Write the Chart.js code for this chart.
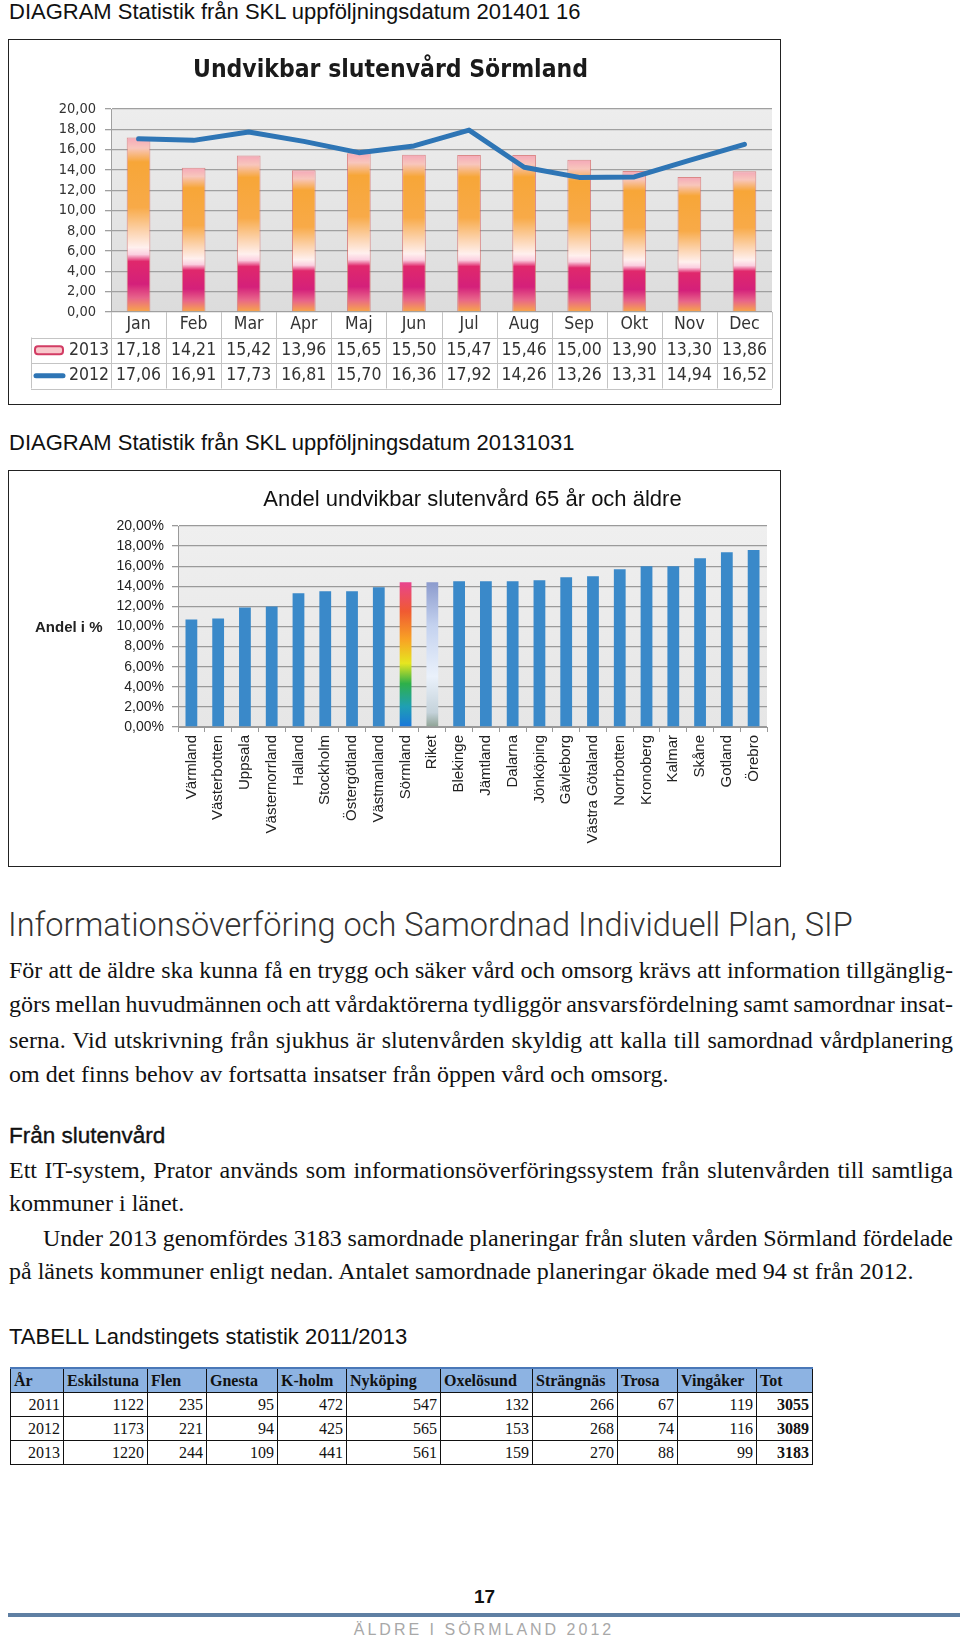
<!DOCTYPE html>
<html>
<head>
<meta charset="utf-8" />
<title>Undvikbar slutenvård</title>
<script src="https://cdn.jsdelivr.net/npm/chart.js"></script>
<style>
  body { margin:0; background:#fff; width:960px; height:1639px; position:relative; overflow:hidden;
         font-family:"Liberation Sans", Arial, sans-serif; color:#111; }
  .t { position:absolute; white-space:nowrap; line-height:1; }
  .head { font-size:22px; left:9px; }
  .box { position:absolute; left:8px; width:771px; border:1.5px solid #222; background:#fff; }
  canvas { position:absolute; }
  .ser { font-family:"Liberation Serif", "Times New Roman", serif; font-size:24px; left:9px; }
  table { position:absolute; left:10px; top:1367px; border-collapse:collapse; table-layout:fixed;
          font-family:"Liberation Serif", "Times New Roman", serif; font-size:16px; }
  td, th { border:1.5px solid #111; height:23px; padding:0 3px; text-align:right; }
  th { background:#8db3e2; text-align:left; font-weight:bold; border-top:2px solid #4a78b8; }
  td.b { font-weight:bold; }
</style>
</head>
<body>

<div class="t head" style="top:1px">DIAGRAM Statistik från SKL uppföljningsdatum 201401 16</div>
<div class="box" style="top:39px;height:364px"></div>
<canvas id="monthChart" width="772" height="365" style="left:9px;top:40px"></canvas>

<div class="t head" style="top:432px">DIAGRAM Statistik från SKL uppföljningsdatum 20131031</div>
<div class="box" style="top:470px;height:395px"></div>
<canvas id="regionChart" width="772" height="396" style="left:9px;top:471px"></canvas>

<div class="t" style="top:909px;left:8px;font-family:Roboto, 'Liberation Sans', sans-serif;font-weight:300;font-size:32.5px;color:#333">Informationsöverföring och Samordnad Individuell Plan, SIP</div>

<div class="t ser j" data-w="944" style="top:958px">För att de äldre ska kunna få en trygg och säker vård och omsorg krävs att information tillgänglig-</div>
<div class="t ser j" data-w="944" style="top:992px">görs mellan huvudmännen och att vårdaktörerna tydliggör ansvarsfördelning samt samordnar insat-</div>
<div class="t ser j" data-w="944" style="top:1028px">serna. Vid utskrivning från sjukhus är slutenvården skyldig att kalla till samordnad vårdplanering</div>
<div class="t ser" style="top:1062px">om det finns behov av fortsatta insatser från öppen vård och omsorg.</div>

<div class="t" style="top:1125px;left:9px;font-size:22.5px;-webkit-text-stroke:0.35px #111">Från slutenvård</div>
<div class="t ser j" data-w="944" style="top:1158px">Ett IT-system, Prator används som informationsöverföringssystem från slutenvården till samtliga</div>
<div class="t ser" style="top:1191px">kommuner i länet.</div>
<div class="t ser j" data-w="910" style="top:1226px;left:43px">Under 2013 genomfördes 3183 samordnade planeringar från sluten vården Sörmland fördelade</div>
<div class="t ser" style="top:1259px">på länets kommuner enligt nedan. Antalet samordnade planeringar ökade med 94 st från 2012.</div>

<div class="t head" style="top:1326px;font-size:22px">TABELL Landstingets statistik 2011/2013</div>
<table id="kommunTable"></table>

<div class="t" style="top:1587px;left:474px;font-size:19px;font-weight:bold">17</div>
<div style="position:absolute;left:8px;top:1613px;width:952px;height:4px;background:#5f7fa3"></div>
<div class="t" style="top:1622px;left:0;width:968px;text-align:center;font-size:16px;letter-spacing:3px;color:#a8a8a8">ÄLDRE I SÖRMLAND 2012</div>

<script>
  // --- chart 1: Undvikbar slutenvård Sörmland
  const months = ['Jan', 'Feb', 'Mar', 'Apr', 'Maj', 'Jun', 'Jul', 'Aug', 'Sep', 'Okt', 'Nov', 'Dec'];
  const values2013 = [17.18, 14.21, 15.42, 13.96, 15.65, 15.50, 15.47, 15.46, 15.00, 13.90, 13.30, 13.86];
  const values2012 = [17.06, 16.91, 17.73, 16.81, 15.70, 16.36, 17.92, 14.26, 13.26, 13.31, 14.94, 16.52];

  // --- chart 2: Andel undvikbar slutenvård 65 år och äldre
  const regions = ['Värmland', 'Västerbotten', 'Uppsala', 'Västernorrland', 'Halland', 'Stockholm',
    'Östergötland', 'Västmanland', 'Sörmland', 'Riket', 'Blekinge', 'Jämtland', 'Dalarna', 'Jönköping',
    'Gävleborg', 'Västra Götaland', 'Norrbotten', 'Kronoberg', 'Kalmar', 'Skåne', 'Gotland', 'Örebro'];
  const shares = [10.7, 10.8, 11.9, 12.0, 13.3, 13.5, 13.5, 13.9, 14.4, 14.4, 14.5, 14.5, 14.5, 14.6,
    14.9, 15.0, 15.7, 16.0, 16.0, 16.8, 17.4, 17.6];

  // --- table
  const tableHeader = ['År', 'Eskilstuna', 'Flen', 'Gnesta', 'K-holm', 'Nyköping', 'Oxelösund', 'Strängnäs', 'Trosa', 'Vingåker', 'Tot'];
  const tableRows = [
    ['2011', 1122, 235, 95, 472, 547, 132, 266, 67, 119, 3055],
    ['2012', 1173, 221, 94, 425, 565, 153, 268, 74, 116, 3089],
    ['2013', 1220, 244, 109, 441, 561, 159, 270, 88, 99, 3183]
  ];
  const colWidths = [53, 84, 59, 71, 69, 94, 92, 85, 60, 79, 56];

  const SANS = '"Liberation Sans", Arial, sans-serif';
  const COND = '"DejaVu Sans Condensed", "Liberation Sans", sans-serif';
  const fmt = v => v.toFixed(2).replace('.', ',');

  Chart.defaults.font.family = SANS;
  Chart.defaults.color = '#222';

  const plotBg = {
    id: 'plotBg',
    beforeDraw(chart, args, opts) {
      const {ctx, chartArea: a} = chart;
      const g = ctx.createLinearGradient(0, a.top, 0, a.bottom);
      g.addColorStop(0, opts.top);
      g.addColorStop(1, opts.bottom);
      ctx.save();
      ctx.fillStyle = g;
      ctx.fillRect(a.left, a.top, a.right - a.left, a.bottom - a.top);
      ctx.restore();
    }
  };

  function verticalFill(c, stops, fallback) {
    const chart = c.chart;
    if (!chart.chartArea || c.raw === undefined) return fallback;
    const y = chart.scales.y;
    const g = chart.ctx.createLinearGradient(0, y.getPixelForValue(0), 0, y.getPixelForValue(c.raw));
    stops.forEach(([o, col]) => g.addColorStop(o, col));
    return g;
  }

  const monthStops = [[0, '#f8a848'], [0.08, '#e8648a'], [0.16, '#d4207a'], [0.29, '#e0286c'],
    [0.33, '#fbcfe0'], [0.37, '#fff0ee'], [0.46, '#fcd4b0'], [0.6, '#f8aa48'], [0.86, '#f7a638'],
    [0.94, '#f8c6bc'], [1, '#f4a8b8']];

  // month table under the plot, drawn from the x scale
  const monthTable = {
    id: 'monthTable',
    afterDraw(chart) {
      const {ctx, chartArea: a, scales: {x}} = chart;
      const rowH = 25.5, legLeft = 22;
      const step = (a.right - a.left) / months.length;
      const rows = [a.bottom, a.bottom + rowH, a.bottom + 2 * rowH, a.bottom + 3 * rowH];
      ctx.save();
      ctx.strokeStyle = '#c4c4c4';
      ctx.lineWidth = 1;
      ctx.beginPath();
      for (let i = 0; i <= months.length; i++) {
        const px = Math.round(a.left + i * step) + 0.5;
        ctx.moveTo(px, rows[0]);
        ctx.lineTo(px, rows[3]);
      }
      ctx.moveTo(legLeft + 0.5, rows[1]);
      ctx.lineTo(legLeft + 0.5, rows[3]);
      [1, 2, 3].forEach(r => {
        ctx.moveTo(legLeft, Math.round(rows[r]) + 0.5);
        ctx.lineTo(a.right, Math.round(rows[r]) + 0.5);
      });
      ctx.stroke();

      ctx.fillStyle = '#333';
      ctx.font = '17.5px ' + COND;
      ctx.textAlign = 'center';
      ctx.textBaseline = 'middle';
      months.forEach((m, i) => {
        const cx = x.getPixelForValue(i);
        ctx.fillText(m, cx, rows[0] + rowH / 2);
        ctx.fillText(fmt(values2013[i]), cx, rows[1] + rowH / 2);
        ctx.fillText(fmt(values2012[i]), cx, rows[2] + rowH / 2);
      });
      ctx.textAlign = 'right';
      ctx.fillText('2013', a.left - 2, rows[1] + rowH / 2);
      ctx.fillText('2012', a.left - 2, rows[2] + rowH / 2);

      // legend keys
      const ky = rows[1] + rowH / 2;
      ctx.fillStyle = '#f8c8cc';
      ctx.strokeStyle = '#d23c64';
      ctx.lineWidth = 2;
      ctx.beginPath();
      ctx.roundRect(26, ky - 4, 28, 8, 3);
      ctx.fill();
      ctx.stroke();
      ctx.strokeStyle = '#2e75b5';
      ctx.lineWidth = 5;
      ctx.lineCap = 'round';
      ctx.beginPath();
      ctx.moveTo(27, rows[2] + rowH / 2);
      ctx.lineTo(54, rows[2] + rowH / 2);
      ctx.stroke();
      ctx.restore();
    }
  };

  new Chart(document.getElementById('monthChart'), {
    type: 'bar',
    data: {
      labels: months,
      datasets: [
        {
          type: 'line',
          label: '2012',
          data: values2012,
          borderColor: '#2e75b5',
          borderWidth: 5,
          pointRadius: 0,
          tension: 0,
          borderJoinStyle: 'round',
          borderCapStyle: 'round',
          order: 0
        },
        {
          label: '2013',
          data: values2013,
          backgroundColor: c => verticalFill(c, monthStops, '#f8a848'),
          borderColor: 'rgba(214, 96, 96, 0.7)',
          borderWidth: 1,
          categoryPercentage: 1,
          barPercentage: 0.43,
          order: 1
        }
      ]
    },
    options: {
      responsive: false,
      animation: false,
      layout: { padding: { left: 0, right: 9, top: 0, bottom: 93 } },
      plugins: {
        legend: { display: false },
        tooltip: { enabled: false },
        title: {
          display: true,
          text: 'Undvikbar slutenvård Sörmland',
          font: { family: COND, size: 24.5, weight: 'bold' },
          color: '#1a1a1a',
          padding: { top: 16, bottom: 23.6 }
        },
        plotBg: { top: '#ededed', bottom: '#dcdcdc' }
      },
      scales: {
        x: { display: false },
        y: {
          min: 0,
          max: 20,
          ticks: { stepSize: 2, autoSkip: false, callback: v => fmt(v), font: { family: COND, size: 14.5 }, color: '#333', padding: 9 },
          grid: { color: '#a0a0a0', lineWidth: 1.3, tickLength: 6 },
          border: { color: '#a0a0a0' },
          afterFit(s) { s.width = 102; }
        }
      }
    },
    plugins: [plotBg, monthTable]
  });

  const rainbowStops = [[0, '#1a76dc'], [0.14, '#1f9fb4'], [0.3, '#2eb04a'], [0.44, '#e6e620'],
    [0.6, '#f8a424'], [0.8, '#f05a32'], [1, '#e8448e']];
  const riketStops = [[0, '#8ea294'], [0.1, '#c4d2da'], [0.35, '#eaf1fb'], [0.7, '#c4d2ef'], [1, '#8c9bcd']];

  function regionFill(c) {
    if (c.dataIndex === 8) return verticalFill(c, rainbowStops, '#3a89c9');
    if (c.dataIndex === 9) return verticalFill(c, riketStops, '#3a89c9');
    return '#3a89c9';
  }

  const axisCaption = {
    id: 'axisCaption',
    afterDraw(chart) {
      const {ctx, chartArea: a} = chart;
      ctx.save();
      ctx.font = 'bold 15px ' + SANS;
      ctx.fillStyle = '#222';
      ctx.textAlign = 'left';
      ctx.textBaseline = 'middle';
      ctx.fillText('Andel i %', 26, (a.top + a.bottom) / 2 + 1);
      ctx.restore();
    }
  };

  new Chart(document.getElementById('regionChart'), {
    type: 'bar',
    data: {
      labels: regions,
      datasets: [{
        label: 'Andel i %',
        data: shares,
        backgroundColor: regionFill,
        borderWidth: 0,
        categoryPercentage: 1,
        barPercentage: 0.44
      }]
    },
    options: {
      responsive: false,
      animation: false,
      layout: { padding: { left: 0, right: 14, top: 0, bottom: 0 } },
      plugins: {
        legend: { display: false },
        tooltip: { enabled: false },
        title: {
          display: true,
          fullSize: false,
          text: 'Andel undvikbar slutenvård 65 år och äldre',
          font: { size: 22, weight: 'normal' },
          color: '#111',
          padding: { top: 15.8, bottom: 12.8 }
        },
        plotBg: { top: '#efefef', bottom: '#e6e6e6' }
      },
      scales: {
        x: {
          ticks: { minRotation: 90, maxRotation: 90, autoSkip: false, font: { size: 15 }, color: '#222', padding: 3 },
          grid: { drawOnChartArea: false, color: '#999', tickLength: 5 },
          border: { color: '#999' },
          afterFit(s) { s.height = 140; }
        },
        y: {
          min: 0,
          max: 20,
          ticks: { stepSize: 2, autoSkip: false, callback: v => fmt(v) + '%', font: { size: 14 }, color: '#222', padding: 8 },
          grid: { color: '#9a9a9a', lineWidth: 1.3, tickLength: 6 },
          border: { color: '#9a9a9a' },
          afterFit(s) { s.width = 169; }
        }
      }
    },
    plugins: [plotBg, axisCaption]
  });

  // table
  const table = document.getElementById('kommunTable');
  let html = '<colgroup>' + colWidths.map(w => `<col style="width:${w}px">`).join('') + '</colgroup>';
  html += '<tr>' + tableHeader.map(h => `<th>${h}</th>`).join('') + '</tr>';
  tableRows.forEach(r => {
    html += '<tr>' + r.map((v, i) => `<td${i === r.length - 1 ? ' class="b"' : ''}>${v}</td>`).join('') + '</tr>';
  });
  table.innerHTML = html;

  // justify the text lines to their column width
  document.querySelectorAll('.j').forEach(el => {
    const target = +el.dataset.w;
    const spaces = (el.textContent.match(/ /g) || []).length;
    const natural = el.getBoundingClientRect().width;
    el.style.wordSpacing = ((target - natural) / spaces) + 'px';
  });
</script>
</body>
</html>
